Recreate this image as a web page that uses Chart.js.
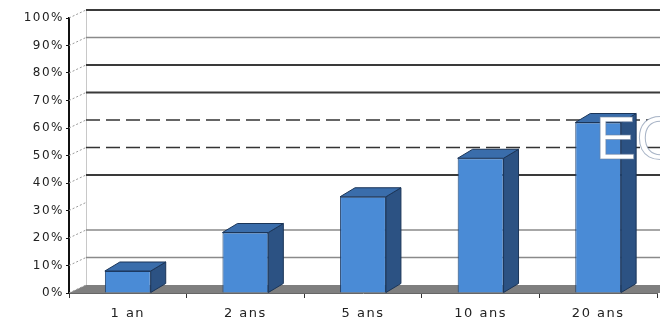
<!DOCTYPE html>
<html>
<head>
<meta charset="utf-8">
<script src="https://cdn.jsdelivr.net/npm/chart.js@4/dist/chart.umd.min.js"></script>
<style>
  html, body { margin: 0; padding: 0; background: #fff; }
  #wrap { width: 660px; height: 326px; }
</style>
</head>
<body>
<div id="wrap"><canvas id="graph" width="660" height="326"></canvas></div>
<script>
// Données
const categories = ['1 an', '2 ans', '5 ans', '10 ans', '20 ans'];
const valeurs = [8, 22, 35, 49, 62];
const yMin = 0;
const yMax = 100;
const yPas = 10;

// profondeur de l'effet 3D (mur du fond et barres)
const MUR = { dx: 17, dy: 8 };
const BARRE = { dx: 15, dy: 9 };

// style des lignes du mur du fond
function styleGrille(v) {
  if (v === 0 || v === 30) return null;
  if (v === 50 || v === 60) return { color: '#333', width: 1.6, dash: [14, 6] };
  if (v === 10 || v === 20 || v === 90) return { color: '#8a8a8a', width: 1.3, dash: [] };
  return { color: '#3a3a3a', width: 1.8, dash: [] };
}

const effet3d = {
  id: 'effet3d',
  beforeDraw(chart) {
    chart.ctx.letterSpacing = '1.5px';
  },
  beforeDatasetsDraw(chart) {
    const { ctx, chartArea: a, scales: { y } } = chart;
    ctx.save();
    ctx.letterSpacing = '0px';
    // sol gris
    ctx.fillStyle = '#7f7f7f';
    ctx.beginPath();
    ctx.moveTo(a.left, a.bottom);
    ctx.lineTo(a.left + MUR.dx, a.bottom - MUR.dy);
    ctx.lineTo(chart.width, a.bottom - MUR.dy);
    ctx.lineTo(chart.width, a.bottom);
    ctx.closePath();
    ctx.fill();
    // bord gauche du mur
    ctx.strokeStyle = '#c8c8c8';
    ctx.lineWidth = 1;
    ctx.beginPath();
    ctx.moveTo(a.left + MUR.dx + 0.5, a.bottom - MUR.dy);
    ctx.lineTo(a.left + MUR.dx + 0.5, a.top - MUR.dy);
    ctx.stroke();
    // lignes du fond + petits traits pointillés vers l'axe
    y.ticks.forEach(t => {
      const py = y.getPixelForValue(t.value);
      ctx.setLineDash([2, 2]);
      ctx.strokeStyle = '#999';
      ctx.lineWidth = 1;
      ctx.beginPath();
      ctx.moveTo(a.left, py);
      ctx.lineTo(a.left + MUR.dx, py - MUR.dy);
      ctx.stroke();
      const s = styleGrille(t.value);
      if (!s) return;
      ctx.setLineDash(s.dash);
      ctx.strokeStyle = s.color;
      ctx.lineWidth = s.width;
      ctx.beginPath();
      ctx.moveTo(a.left + MUR.dx, py - MUR.dy);
      ctx.lineTo(chart.width, py - MUR.dy);
      ctx.stroke();
    });
    ctx.restore();
  },
  afterDatasetsDraw(chart) {
    const { ctx, chartArea: a } = chart;
    ctx.save();
    chart.getDatasetMeta(0).data.forEach(bar => {
      const { x, y, base, width } = bar.getProps(['x', 'y', 'base', 'width'], true);
      const l = x - width / 2, r = x + width / 2;
      // face latérale
      ctx.fillStyle = '#2c5283';
      ctx.strokeStyle = '#1b3558';
      ctx.lineWidth = 1;
      ctx.beginPath();
      ctx.moveTo(r, y);
      ctx.lineTo(r + BARRE.dx, y - BARRE.dy);
      ctx.lineTo(r + BARRE.dx, base - BARRE.dy);
      ctx.lineTo(r, base);
      ctx.closePath();
      ctx.fill();
      ctx.stroke();
      // dessus
      ctx.fillStyle = '#3a6dab';
      ctx.beginPath();
      ctx.moveTo(l, y);
      ctx.lineTo(l + BARRE.dx, y - BARRE.dy);
      ctx.lineTo(r + BARRE.dx, y - BARRE.dy);
      ctx.lineTo(r, y);
      ctx.closePath();
      ctx.fill();
      ctx.stroke();
    });
    // filigrane
    ctx.letterSpacing = '0px';
    ctx.font = '62px "Liberation Sans", Arial, sans-serif';
    ctx.textBaseline = 'alphabetic';
    ctx.fillStyle = '#ffffff';
    ctx.strokeStyle = 'rgba(110,130,160,0.6)';
    ctx.lineWidth = 1;
    ctx.fillText('EC', a.right - 62, a.top + 141);
    ctx.strokeText('EC', a.right - 62, a.top + 141);
    ctx.restore();
  }
};

const ctx = document.getElementById('graph').getContext('2d');

new Chart(ctx, {
  type: 'bar',
  data: {
    labels: categories,
    datasets: [{
      data: valeurs,
      backgroundColor: '#4a8bd6',
      borderColor: '#1f3f6a',
      borderWidth: 1,
      barPercentage: 0.78,
      categoryPercentage: 0.5
    }]
  },
  options: {
    responsive: false,
    animation: false,
    layout: { padding: { top: 18, right: 3, left: 0, bottom: 0 } },
    plugins: {
      legend: { display: false },
      tooltip: { enabled: false }
    },
    scales: {
      x: {
        afterFit: s => { s.height = 33; },
        grid: { offset: true, drawOnChartArea: false, tickLength: 5, tickColor: '#333' },
        border: { color: '#666', width: 1 },
        ticks: { color: '#222', padding: 8, font: { family: 'DejaVu Sans', size: 13 } }
      },
      y: {
        min: yMin,
        max: yMax,
        afterFit: s => { s.width = 69; },
        grid: { drawOnChartArea: false, tickLength: 3, tickColor: '#111' },
        border: { color: '#111', width: 2 },
        ticks: {
          stepSize: yPas,
          color: '#222',
          padding: 2,
          font: { family: 'DejaVu Sans', size: 12 },
          callback: v => v + '%'
        }
      }
    }
  },
  plugins: [effet3d]
});
</script>
</body>
</html>
